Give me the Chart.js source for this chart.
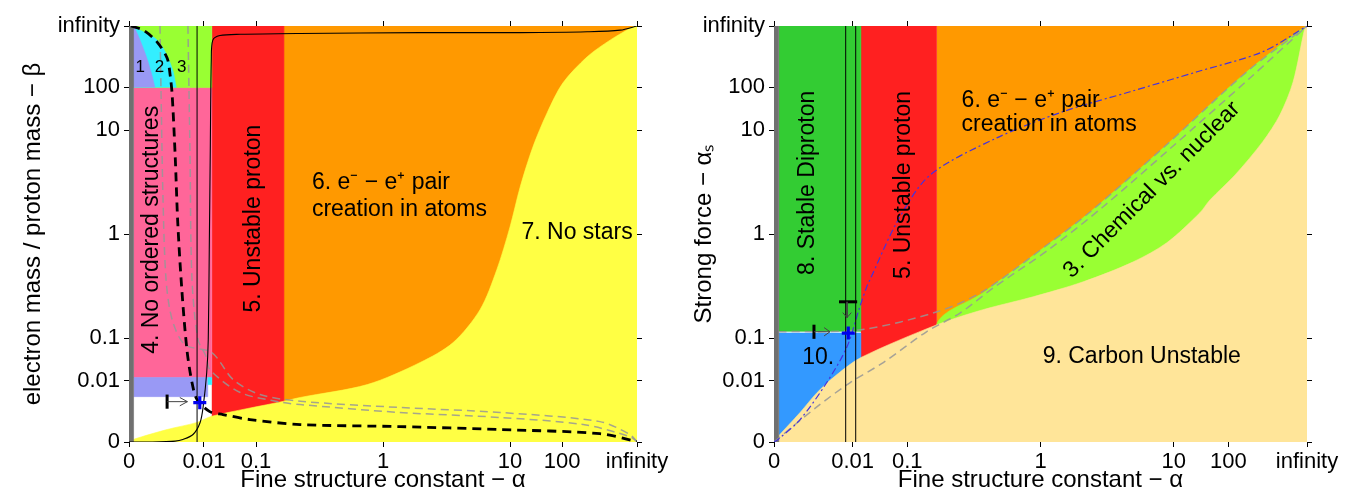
<!DOCTYPE html>
<html>
<head>
<meta charset="utf-8">
<script src="https://cdn.jsdelivr.net/npm/chart.js@4.4.1/dist/chart.umd.min.js"></script>
<style>
body { margin: 0; background: #fff; }
canvas { position: absolute; top: 0; }
</style>
</head>
<body>
<canvas id="left" width="676" height="499" style="left:0"></canvas>
<canvas id="right" width="676" height="499" style="left:676px"></canvas>
<script>
"use strict";

// both axes run from 0 to infinity, squeezed onto [0,1] by u = 1/2 + atan(log10 v)/pi
// region outlines below are given in those squeezed units [u(alpha), u(y)]
const tickValues = [0, 0.01, 0.1, 1, 10, 100, Infinity];
const tickLabels = ["0", "0.01", "0.1", "1", "10", "100", "infinity"];

// our universe
const alphaNow = 1 / 137.036;
const betaNow = 1 / 1836.15;
const alphaSNow = 0.118;

// ---- left panel: alpha vs beta ----
const leftOrange = [0.305, 1, 0, 1];
const leftRed = [0.163, 0.305, 0, 1];
const leftNoStars = [[0, 0], [0.008, 0.006], [0.075, 0.030], [0.134, 0.047], [0.163, 0.062], [0.305, 0.098],
    [0.337, 0.107], [0.469, 0.138], [0.573, 0.191], [0.638, 0.239], [0.691, 0.318], [0.724, 0.414],
    [0.750, 0.517], [0.770, 0.613], [0.795, 0.709], [0.823, 0.791], [0.854, 0.863], [0.902, 0.926],
    [0.947, 0.966], [0.992, 0.998], [1, 1], [1, 0]];
const leftPink = [0.009, 0.163, 0.155, 0.852];
const leftLavStrip = [0.009, 0.155, 0.109, 0.155];
const leftCyanStrip = [0.155, 0.163, 0.138, 0.155];
const leftGreen = [0.009, 0.163, 0.852, 1];
const leftCyan = [[0.009, 0.852], [0.009, 1], [0.022, 0.990], [0.051, 0.971], [0.067, 0.947], [0.077, 0.923],
    [0.087, 0.890], [0.093, 0.852]];
const leftLav = [[0.009, 0.852], [0.009, 1], [0.020, 0.971], [0.035, 0.923], [0.045, 0.882], [0.051, 0.852]];
const greyBar = [0, 0.009, 0, 1];

const leftVertical = [[0.134, 0], [0.134, 1]];
const leftSolid = [[0, 0], [0.041, 0], [0.091, 0.002], [0.106, 0.006], [0.126, 0.018], [0.140, 0.047],
    [0.146, 0.085], [0.153, 0.167], [0.156, 0.246], [0.158, 0.462], [0.160, 0.702], [0.162, 0.918],
    [0.165, 0.966], [0.179, 0.977], [0.219, 0.980], [0.337, 0.982], [0.573, 0.984], [0.770, 0.984],
    [0.902, 0.986], [0.967, 0.990], [1, 1]];
const leftDashed = [[0.004, 1], [0.028, 0.990], [0.055, 0.962], [0.075, 0.923], [0.081, 0.882], [0.085, 0.834],
    [0.091, 0.685], [0.096, 0.527], [0.104, 0.366], [0.114, 0.222], [0.124, 0.143], [0.134, 0.102],
    [0.159, 0.073], [0.185, 0.066], [0.238, 0.054], [0.337, 0.042], [0.533, 0.037], [0.730, 0.030],
    [0.927, 0.020], [1, 0.001]];
const leftGreyA = [[0.061, 1], [0.063, 0.846], [0.067, 0.582], [0.073, 0.390], [0.085, 0.294], [0.110, 0.234],
    [0.163, 0.215], [0.205, 0.150], [0.258, 0.114], [0.337, 0.098], [0.533, 0.083], [0.730, 0.071],
    [0.927, 0.049], [0.986, 0.018], [1, 0.001]];
const leftGreyB = [[0.116, 1], [0.120, 0.702], [0.124, 0.390], [0.136, 0.246], [0.152, 0.205], [0.159, 0.174],
    [0.219, 0.119], [0.303, 0.095], [0.337, 0.090], [0.533, 0.071], [0.730, 0.059], [0.894, 0.042],
    [0.986, 0.013], [1, 0.001]];
const leftArrowBar = [[0.075, 0.080], [0.075, 0.114]];
const leftArrowShaft = [[0.075, 0.097], [0.115, 0.097]];
const leftArrowHead = [[0.100, 0.107], [0.115, 0.097], [0.100, 0.087]];

// ---- right panel: alpha vs alpha_s ----
const rightOrange = [0.305, 1, 0, 1];
const rightRed = [0.163, 0.305, 0, 1];
const rightDiproton = [0.009, 0.163, 0.266, 1];
const rightBlue = [0.009, 0.163, 0, 0.262];
const rightChemical = [[0.305, 0], [0.305, 0.282], [0.392, 0.359], [0.518, 0.479], [0.593, 0.553],
    [0.730, 0.707], [0.887, 0.890], [1, 1], [1, 0]];
const rightCarbon = [[0, 0], [0.0075, 0.013], [0.049, 0.071], [0.081, 0.119], [0.118, 0.162], [0.163, 0.203],
    [0.306, 0.282], [0.392, 0.318], [0.486, 0.349], [0.580, 0.385], [0.674, 0.433], [0.737, 0.479],
    [0.799, 0.551], [0.818, 0.582], [0.865, 0.642], [0.917, 0.722], [0.949, 0.786], [0.974, 0.866],
    [0.996, 0.995], [1, 1], [1, 0]];

const rightVertical1 = [[0.1345, 0], [0.1345, 1]];
const rightVertical2 = [[0.1533, 0], [0.1533, 1]];
const rightDashDot = [[0, 0], [0.0075, 0.006], [0.049, 0.054], [0.099, 0.143], [0.137, 0.229], [0.161, 0.325],
    [0.174, 0.373], [0.180, 0.390], [0.233, 0.534], [0.293, 0.642], [0.418, 0.731], [0.542, 0.794],
    [0.668, 0.842], [0.794, 0.890], [0.917, 0.938], [1, 1]];
const rightGrey1 = [[0.009, 0.265], [0.163, 0.270], [0.306, 0.313], [0.392, 0.362], [0.518, 0.479],
    [0.593, 0.553], [0.730, 0.707], [0.887, 0.890], [1, 1]];
const rightGrey2 = [[0, 0], [0.081, 0.085], [0.143, 0.143], [0.205, 0.191], [0.286, 0.265], [0.349, 0.310],
    [0.411, 0.370], [0.518, 0.465], [0.617, 0.565], [0.743, 0.705], [0.893, 0.875], [1, 1]];
const rightArrowBar = [[0.075, 0.248], [0.075, 0.282]];
const rightArrowShaft = [[0.075, 0.265], [0.105, 0.265]];
const rightArrowHead = [[0.094, 0.275], [0.105, 0.265], [0.094, 0.255]];
const rightDownBar = [[0.122, 0.337], [0.156, 0.337]];
const rightDownShaft = [[0.137, 0.337], [0.137, 0.299]];
const rightDownHead = [[0.129, 0.311], [0.137, 0.299], [0.145, 0.311]];

const leftTexts = [
    {text: "1", x: 0.022, y: 0.901, size: 17},
    {text: "2", x: 0.060, y: 0.901, size: 17},
    {text: "3", x: 0.104, y: 0.901, size: 17},
    {text: "4. No ordered structures", x: 0.045, y: 0.510, rot: -90},
    {text: "5. Unstable proton", x: 0.246, y: 0.537, rot: -90},
    {text: "6. e\u207B \u2212 e\u207A pair", x: 0.360, y: 0.623, align: "left"},
    {text: "creation in atoms", x: 0.360, y: 0.558, align: "left"},
    {text: "7. No stars", x: 0.882, y: 0.503},
];
const rightTexts = [
    {text: "8. Stable Diproton", x: 0.064, y: 0.623, rot: -90},
    {text: "5. Unstable proton", x: 0.244, y: 0.618, rot: -90},
    {text: "6. e\u207B \u2212 e\u207A pair", x: 0.352, y: 0.820, align: "left"},
    {text: "creation in atoms", x: 0.352, y: 0.762, align: "left"},
    {text: "3. Chemical vs. nuclear", x: 0.709, y: 0.606, rot: -45},
    {text: "9. Carbon Unstable", x: 0.690, y: 0.205},
    {text: "10.", x: 0.083, y: 0.203},
];

const FONT = "'Liberation Sans', Arial, sans-serif";
Chart.defaults.color = "#000";
Chart.defaults.font.family = FONT;

function squeeze(v) {
    if (v <= 0) return 0;
    if (v === Infinity) return 1;
    return 0.5 + Math.atan(Math.log10(v)) / Math.PI;
}

function pts(list) {
    return list.map(p => ({x: p[0], y: p[1]}));
}

function rect(r) {
    return [[r[0], r[2]], [r[1], r[2]], [r[1], r[3]], [r[0], r[3]]];
}

// curved outlines get a little tension, rectangles stay sharp
function area(list, color, smooth) {
    return {data: pts(list), fill: "shape", backgroundColor: color, borderColor: color,
        borderWidth: 0.6, pointRadius: 0, tension: smooth ? 0.3 : 0, clip: 0};
}

function line(list, color, width, dash, smooth) {
    return {data: pts(list), fill: false, borderColor: color, borderWidth: width,
        borderDash: dash || [], pointRadius: 0, tension: smooth ? 0.3 : 0};
}

function cross(x, y) {
    return {data: [{x: squeeze(x), y: squeeze(y)}], showLine: false, pointStyle: "cross",
        pointRadius: 6.5, pointBorderWidth: 3.2, pointBorderColor: "#0000ee"};
}

const textPlugin = {
    id: "regionText",
    afterDatasetsDraw(chart) {
        const ctx = chart.ctx;
        const sx = chart.scales.x, sy = chart.scales.y;
        for (const t of chart.options.regionTexts) {
            ctx.save();
            ctx.translate(sx.getPixelForValue(t.x), sy.getPixelForValue(t.y));
            ctx.rotate((t.rot || 0) * Math.PI / 180);
            ctx.font = (t.size || 23) + "px " + FONT;
            ctx.fillStyle = "#000";
            ctx.textAlign = t.align || "center";
            ctx.textBaseline = "middle";
            ctx.fillText(t.text, 0, 0);
            ctx.restore();
        }
    }
};

function setTicks(axis) {
    axis.ticks = tickValues.map(v => ({value: squeeze(v)}));
}

function makeAxis(position, size, title, titlePad) {
    const horizontal = position === "bottom" || position === "top";
    const a = {
        type: "linear", position: position, min: 0, max: 1,
        afterBuildTicks: setTicks,
        afterFit: axis => { if (horizontal) axis.height = size; else axis.width = size; },
        grid: {drawOnChartArea: false, drawTicks: true, tickLength: 5, tickColor: "#000"},
        border: {display: false},
        ticks: {autoSkip: false, maxRotation: 0, minRotation: 0, padding: horizontal ? 2 : 4,
            font: {size: 22}, color: "#000", callback: (v, i) => tickLabels[i]}
    };
    if (position === "top" || position === "right") {
        a.ticks.callback = () => "";
    }
    if (title) {
        a.title = {display: true, text: title, font: {size: 24}, color: "#000", padding: titlePad};
    }
    return a;
}

function makeChart(id, layers, texts, yWidth, y2Width, yTitle, yTitlePad) {
    const datasets = layers.map((d, i) => Object.assign(d, {order: layers.length - i}));
    return new Chart(document.getElementById(id), {
        type: "line",
        data: {datasets: datasets},
        options: {
            responsive: false,
            animation: false,
            events: [],
            layout: {padding: 0},
            regionTexts: texts,
            plugins: {legend: {display: false}, tooltip: {enabled: false}},
            scales: {
                x: makeAxis("bottom", 57, "Fine structure constant \u2212 \u03B1", {bottom: 4, top: 0}),
                x2: makeAxis("top", 26),
                y: makeAxis("left", yWidth, yTitle, {top: yTitlePad, bottom: 0}),
                y2: makeAxis("right", y2Width)
            }
        },
        plugins: [textPlugin]
    });
}

const GREY_DASH = "rgba(150,150,150,0.85)";

makeChart("left", [
    area(rect(leftOrange), "#ff9900"),
    area(rect(leftRed), "#ff2020"),
    area(leftNoStars, "#ffff44", true),
    area(rect(leftPink), "#ff6699"),
    area(rect(leftLavStrip), "#9999f5"),
    area(rect(leftCyanStrip), "#33eeff"),
    area(rect(leftGreen), "#99ff33"),
    area(leftCyan, "#33eeff", true),
    area(leftLav, "#9999f5", true),
    area(rect(greyBar), "#707070"),
    line(leftGreyA, GREY_DASH, 1.5, [8, 5], true),
    line(leftGreyB, GREY_DASH, 1.5, [8, 5], true),
    line(leftVertical, "#000", 1),
    line(leftSolid, "#000", 1.1, [], true),
    line(leftDashed, "#000", 2.8, [9, 6], true),
    line(leftArrowBar, "#000", 3),
    line(leftArrowShaft, "#444", 1),
    line(leftArrowHead, "#444", 1),
    cross(alphaNow, betaNow)
], leftTexts, 129, 39, "electron mass / proton mass \u2212 \u03B2", 19);

makeChart("right", [
    area(rect(rightOrange), "#ff9900"),
    area(rect(rightRed), "#ff2020"),
    area(rect(rightDiproton), "#33cc33"),
    area(rect(rightBlue), "#3399ff"),
    area(rightChemical, "#99ff33", true),
    area(rightCarbon, "#ffe599", true),
    area(rect(greyBar), "#707070"),
    line(rightGrey1, GREY_DASH, 1.5, [8, 5], true),
    line(rightGrey2, GREY_DASH, 1.5, [8, 5], true),
    line(rightDashDot, "#4433dd", 1.2, [7, 3, 2, 3], true),
    line(rightVertical1, "#000", 1),
    line(rightVertical2, "#000", 1),
    line(rightArrowBar, "#000", 3),
    line(rightArrowShaft, "#444", 1),
    line(rightArrowHead, "#444", 1),
    line(rightDownBar, "#000", 3),
    line(rightDownShaft, "#444", 1),
    line(rightDownHead, "#444", 1),
    cross(alphaNow, alphaSNow)
], rightTexts, 98, 45, "Strong force \u2212 \u03B1\u209B", 14);
</script>
</body>
</html>
